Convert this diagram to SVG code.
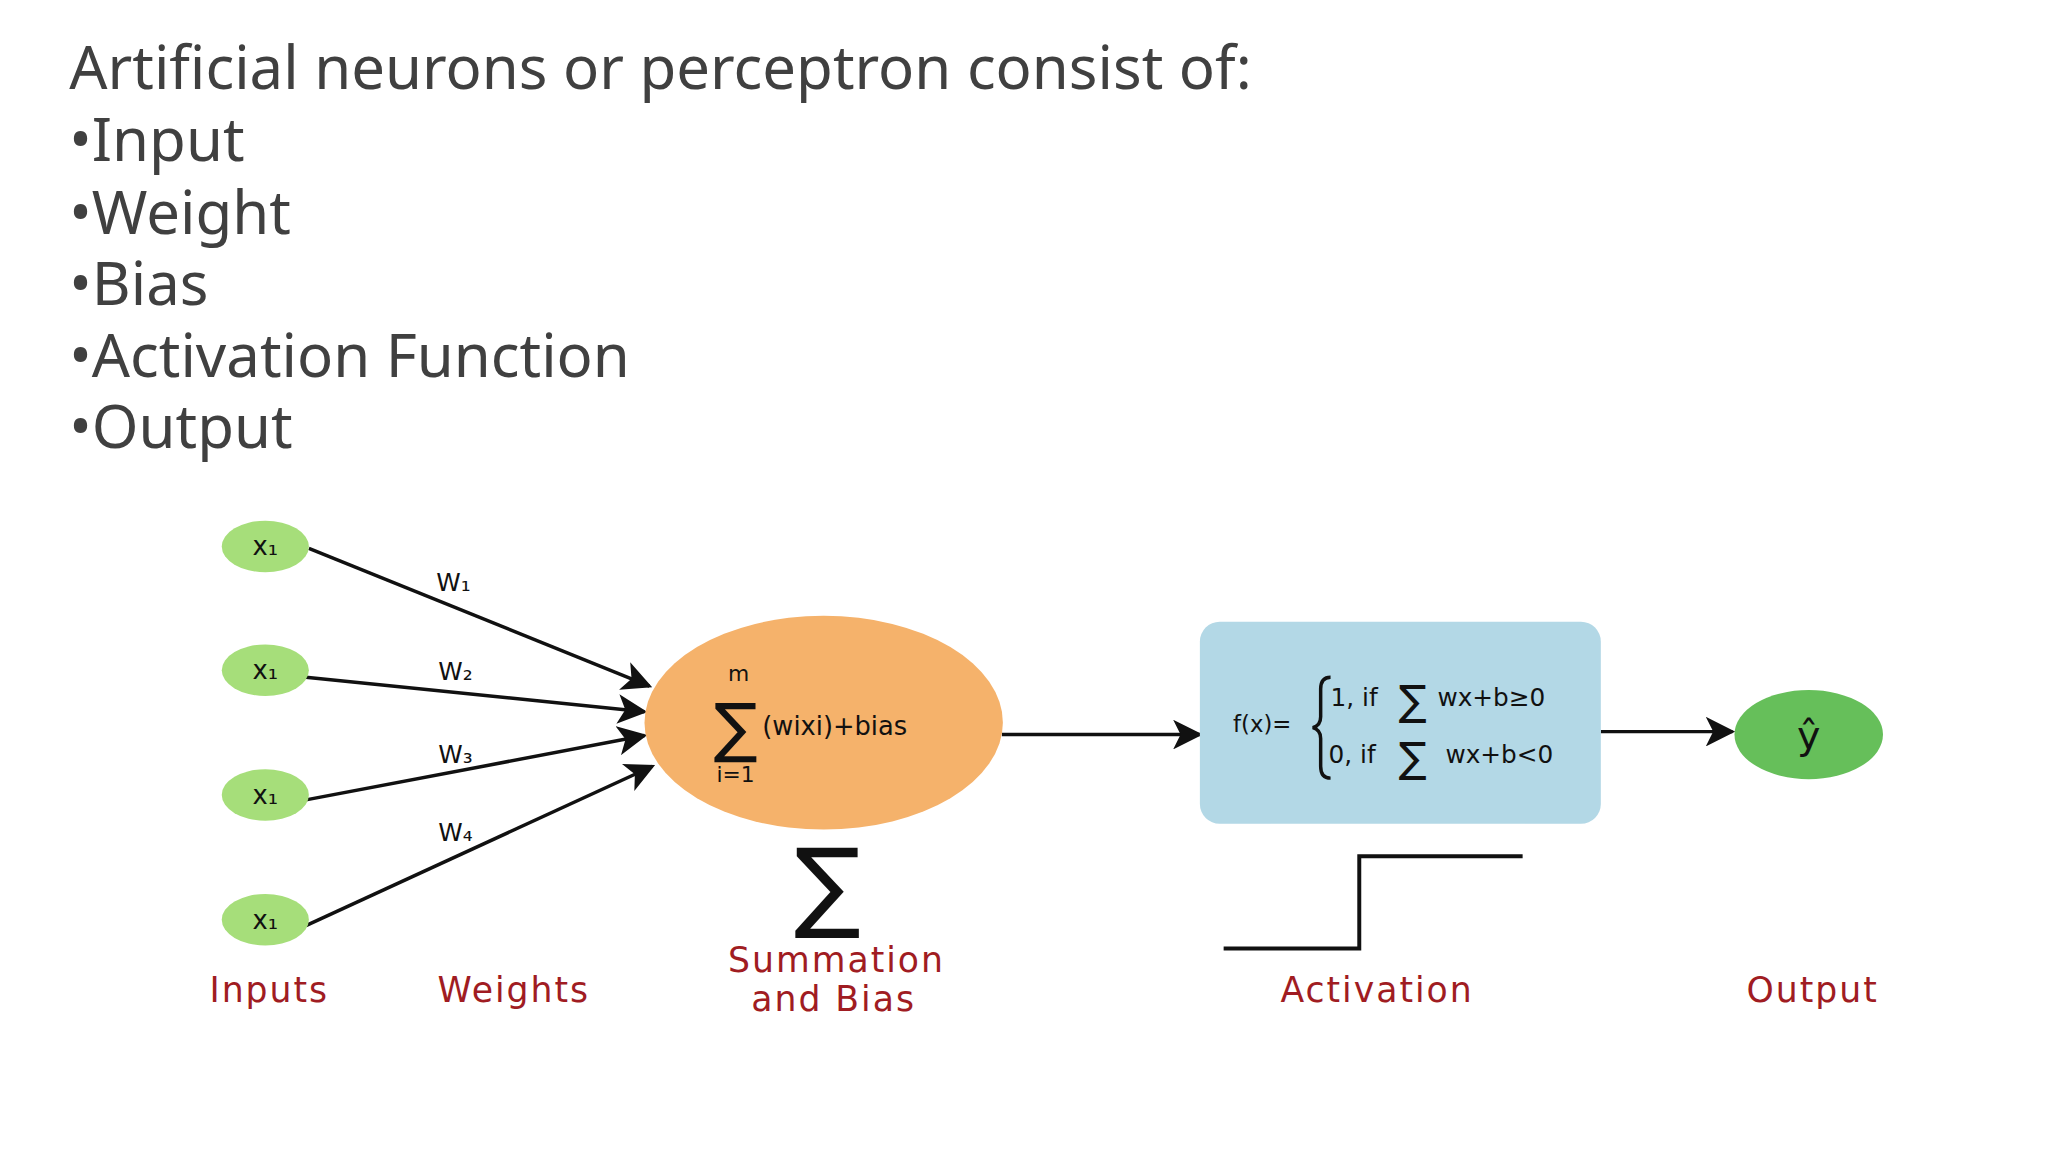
<svg xmlns="http://www.w3.org/2000/svg" width="2048" height="1152" viewBox="0 0 2048 1152">
<style>
.t{font-family:"Noto Sans","Open Sans",sans-serif;font-size:60.5px;fill:#404040}
.in{fill:#a6de7a}
.m{font-family:"DejaVu Sans","Liberation Sans",sans-serif;fill:#111;text-anchor:middle}
.f{font-family:"DejaVu Sans","Liberation Sans",sans-serif;fill:#111;font-size:25px}
.lab{font-family:"DejaVu Sans","Liberation Sans",sans-serif;font-size:35px;fill:#a01c22;text-anchor:middle;letter-spacing:2px}
.c{stroke:#111;stroke-width:3.5;fill:none}
</style>
<defs>
<marker id="ah" viewBox="0 0 20 20" refX="18" refY="10" markerWidth="30" markerHeight="30" markerUnits="userSpaceOnUse" orient="auto">
<path d="M0,0 L20,10 L0,20 L5,10 Z" fill="#111"/>
</marker>
</defs>
<rect width="2048" height="1152" fill="#fff"/>
<g transform="scale(0.99)">
<g id="title">
<text class="t" x="70" y="90">Artificial neurons or perceptron consist of:</text>
<text class="t" x="70" y="163">•Input</text>
<text class="t" x="70" y="236">•Weight</text>
<text class="t" x="70" y="308">•Bias</text>
<text class="t" x="70" y="381">•Activation Function</text>
<text class="t" x="70" y="453">•Output</text>
</g>
<g id="connectors">
<line class="c" x1="312" y1="554" x2="656" y2="693" marker-end="url(#ah)"/>
<line class="c" x1="309" y1="684" x2="651" y2="719" marker-end="url(#ah)"/>
<line class="c" x1="309" y1="808" x2="651" y2="743" marker-end="url(#ah)"/>
<line class="c" x1="309" y1="935" x2="659" y2="774" marker-end="url(#ah)"/>
<line class="c" x1="1012" y1="742" x2="1212" y2="742" marker-end="url(#ah)"/>
<line class="c" x1="1617" y1="739" x2="1750" y2="739" marker-end="url(#ah)"/>
<text class="m" x="458" y="597" font-size="25">W₁</text>
<text class="m" x="460" y="687" font-size="25">W₂</text>
<text class="m" x="460" y="771" font-size="25">W₃</text>
<text class="m" x="460" y="850" font-size="25">W₄</text>
</g>
<g id="x1a"><ellipse class="in" cx="268" cy="552" rx="44" ry="26"/><text class="m" x="268" y="561" font-size="26">x₁</text></g>
<g id="x1b"><ellipse class="in" cx="268" cy="677" rx="44" ry="26"/><text class="m" x="268" y="686" font-size="26">x₁</text></g>
<g id="x1c"><ellipse class="in" cx="268" cy="803" rx="44" ry="26"/><text class="m" x="268" y="812" font-size="26">x₁</text></g>
<g id="x1d"><ellipse class="in" cx="268" cy="929" rx="44" ry="26"/><text class="m" x="268" y="938" font-size="26">x₁</text></g>
<g id="sum">
<ellipse cx="832" cy="730" rx="181" ry="108" fill="#f5b26b"/>
<text class="m" x="746" y="688" font-size="22">m</text>
<text class="m" x="743" y="758" font-size="66">∑</text>
<text class="m" x="743" y="790" font-size="22">i=1</text>
<text x="770" y="742" font-family="DejaVu Sans,sans-serif" font-size="26" fill="#111">(wixi)+bias</text>
</g>
<g id="activation">
<rect x="1212" y="628" width="405" height="204" rx="20" fill="#b3d8e6"/>
<text class="m" x="1275" y="739" font-size="23">f(x)=</text>
<path d="M1344,684 Q1334,684 1334,696 L1334,724 Q1334,733 1326,735 Q1334,737 1334,746 L1334,774 Q1334,786 1344,786" fill="none" stroke="#111" stroke-width="3.5"/>
<text class="f" x="1344" y="713">1, if</text>
<text class="m" x="1427" y="722" font-size="42">∑</text>
<text class="f" x="1452" y="713">wx+b≥0</text>
<text class="f" x="1342" y="771">0, if</text>
<text class="m" x="1427" y="780" font-size="42">∑</text>
<text class="f" x="1460" y="771">wx+b&lt;0</text>
</g>
<g id="output">
<ellipse cx="1827" cy="742" rx="75" ry="45" fill="#66bf5a"/>
<text class="m" x="1827" y="757" font-size="40">ŷ</text>
</g>
<g id="legend">
<text class="m" x="836" y="928" font-size="100">∑</text>
<polyline points="1236,958 1373,958 1373,865 1538,865" fill="none" stroke="#111" stroke-width="4"/>
<text class="lab" x="272" y="1012">Inputs</text>
<text class="lab" x="519" y="1012">Weights</text>
<text class="lab" x="845" y="982">Summation</text>
<text class="lab" x="842" y="1021">and Bias</text>
<text class="lab" x="1391" y="1012">Activation</text>
<text class="lab" x="1831" y="1012">Output</text>
</g>
</g>
</svg>
